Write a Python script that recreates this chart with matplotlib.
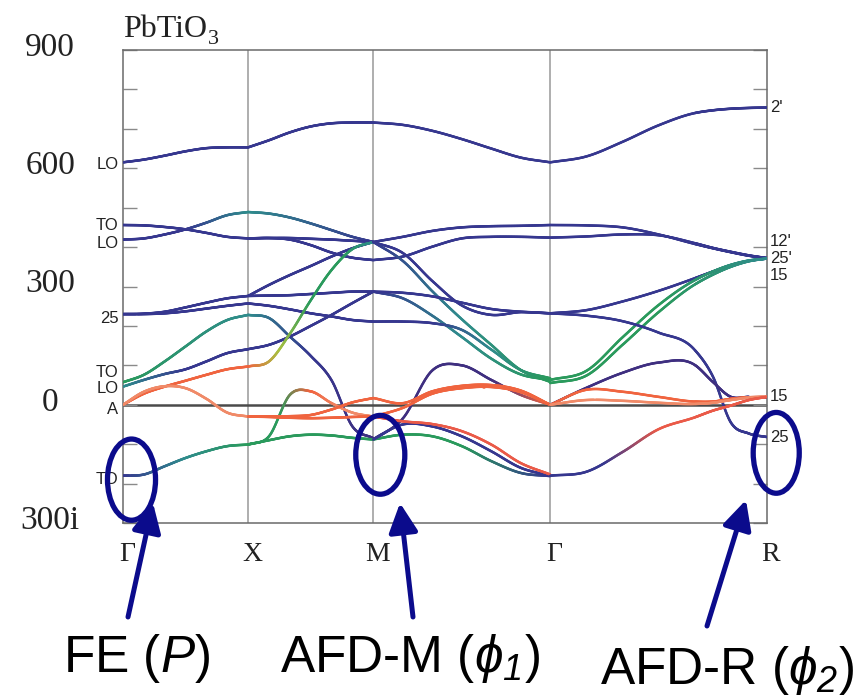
import numpy as np
import matplotlib
matplotlib.use("Agg")
import matplotlib.pyplot as plt
from matplotlib.collections import LineCollection
from matplotlib.colors import to_rgb
from matplotlib.patches import Ellipse
from matplotlib.transforms import blended_transform_factory

plt.rcParams['mathtext.fontset'] = 'custom'
plt.rcParams['mathtext.rm'] = 'Liberation Sans:italic'
plt.rcParams['mathtext.it'] = 'Liberation Sans:italic'
plt.rcParams['mathtext.bf'] = 'Liberation Sans:bold'
plt.rcParams['mathtext.fallback'] = 'stixsans'

# ---------------- data ----------------
SYM_LABELS = ['Γ', 'X', 'M', 'Γ', 'R']
SEG_LENGTHS = [1.0, 1.0, np.sqrt(2.0), np.sqrt(3.0)]

Y_TICK_VALUES = [900, 600, 300, 0, -300]
Y_TICK_LABELS = ['900', '600', '300', '0', '300i']

LEFT_MODE_LABELS = ['LO', 'TO', 'LO', '25', 'TO', 'LO', 'A', 'TO']
LEFT_MODE_POS = [610, 456, 410, 220, 82, 40, -12, -190]
RIGHT_MODE_LABELS = ["2'", "12'", "25'", '15', '15', '25']
RIGHT_MODE_POS = [754, 413, 370, 328, 20, -84]

# Gamma -> X
GX_Q = [0, 1/6, 2/6, 3/6, 4/6, 5/6, 1]
GX_BANDS = [
    [615, 622, 632, 643, 651, 653, 653],
    [456, 455, 451, 445, 436, 426, 422],
    [419, 422, 432, 445, 462, 481, 489],
    [230, 231, 236, 247, 259, 270, 276],
    [230, 230, 232, 237, 244, 251, 257],
    [57, 76, 110, 148, 186, 215, 228],
    [46, 63, 78, 90, 110, 131, 141],
    [0, 28, 46, 61, 76, 90, 97],
    [0, 33, 47, 42, 15, -20, -30],
    [-180, -177, -156, -135, -118, -105, -101],
]
GX_COLORS = [['B'], ['B'], ['B', 'B', 'T'], ['B'], ['B'], ['G', 'T'], ['T', 'B', 'B'],
             ['O'], ['L'], ['B', 'T', 'G']]

# X -> M
XM_Q = [0, 1/6, 2/6, 3/6, 4/6, 5/6, 1]
XM_BANDS = [
    [653, 671, 691, 706, 714, 716, 716],
    [489, 485, 475, 460, 443, 426, 413],
    [422, 423, 423, 421, 419, 416, 413],
    [422, 423, 419, 405, 386, 373, 367],
    [276, 304, 329, 352, 376, 397, 413],
    [276, 277, 278, 281, 284, 287, 287],
    [257, 251, 242, 232, 224, 215, 211],
    [228, 220, 173, 124, 62, -55, -85],
    [141, 152, 173, 200, 228, 258, 287],
    [97, 110, 180, 265, 342, 395, 413],
    [-101, -80, 25, 34, 4, -20, -30],
    [-101, -90, -80, -76, -78, -84, -88],
    [-30, -30, -29, -26, -12, 6, 17],
    [-30, -31, -33, -34, -33, -31, -30],
]
XM_COLORS = [['B'], ['T', 'B'], ['B'], ['B'], ['B'], ['B'], ['B'], ['T', 'B', 'P'], ['B'],
             ['O', 'Y', 'G', 'G', 'T'], ['G', 'G', 'O', 'L', 'L'], ['G'], ['O'], ['O']]

# M -> Gamma
MG_Q = [0, 1/6, 2/6, 3/6, 4/6, 5/6, 1]
MG_BANDS = [
    [716, 710, 695, 674, 650, 627, 615],
    [413, 426, 441, 450, 453, 454, 456],
    [367, 376, 401, 422, 426, 426, 424],
    [413, 385, 314, 252, 228, 235, 232],
    [413, 365, 288, 217, 152, 88, 58],
    [287, 270, 226, 172, 117, 77, 63],
    [287, 284, 275, 259, 243, 236, 232],
    [211, 211, 207, 190, 140, 88, 67],
    [-88, -35, 87, 100, 63, 25, 0],
    [17, 4, 34, 48, 50, 36, 0],
    [-30, -8, 28, 42, 45, 32, 0],
    [-88, -76, -80, -105, -143, -173, -181],
    [-88, -50, -55, -80, -118, -160, -180],
    [-30, -42, -49, -67, -101, -148, -177],
]
MG_COLORS = [['B'], ['B'], ['B'], ['B'], ['B', 'T', 'G'], ['B', 'T', 'G'], ['B'],
             ['B', 'B', 'T', 'G'], ['P', 'P', 'P', 'O'], ['O'], ['O'], ['G', 'G', 'B'],
             ['B'], ['R']]

# Gamma -> R
GR_Q = [0, 1/6, 2/6, 3/6, 4/6, 0.75, 5/6, 11/12, 1]
GR_BANDS = [
    [615, 630, 667, 709, 740, 747, 751, 753, 754],
    [456, 455, 450, 432, 408, 397, 387, 378, 372],
    [424, 427, 432, 430, 410, 398, 388, 379, 372],
    [232, 240, 262, 289, 321, 338, 354, 365, 371],
    [63, 86, 171, 253, 316, 338, 355, 366, 371],
    [55, 74, 152, 235, 305, 330, 350, 364, 371],
    [232, 226, 212, 183, 139, 72, -45, -73, -82],
    [0, 43, 81, 107, 101, 58, 20, 20, 20],
    [0, 38, 33, 20, 8, 8, 15, 19, 20],
    [0, 12, 10, 5, 2, 5, 12, 18, 20],
    [-180, -170, -120, -62, -32, -15, -2, 12, 20],
]
GR_COLORS = [['B'], ['B'], ['B'], ['B'], ['G', 'G', 'T'], ['G', 'G', 'T'], ['B'],
             ['P'], ['O'], ['L'], ['B', 'B', 'R', 'R', 'R']]

# ---------------- styles ----------------
PALETTE = {
    'B': '#36378f',
    'P': '#3f2f80',
    'T': '#2f8c8c',
    'G': '#2a9a5c',
    'Y': '#a8c040',
    'O': '#f0643f',
    'L': '#f08a68',
    'R': '#ea5a48',
}
NAVY = '#0b0b8c'


def smooth(q, v, n=40):
    q = np.asarray(q, float)
    v = np.asarray(v, float)
    m = np.gradient(v, q)
    qq, vv = [], []
    for i in range(len(q) - 1):
        h = q[i + 1] - q[i]
        t = np.linspace(0, 1, n, endpoint=(i == len(q) - 2))
        h00 = 2 * t**3 - 3 * t**2 + 1
        h10 = t**3 - 2 * t**2 + t
        h01 = -2 * t**3 + 3 * t**2
        h11 = t**3 - t**2
        vv.append(h00 * v[i] + h10 * h * m[i] + h01 * v[i + 1] + h11 * h * m[i + 1])
        qq.append(q[i] + t * h)
    return np.concatenate(qq), np.concatenate(vv)


def colors_along(t, stops):
    rgb = np.array([to_rgb(PALETTE[s]) for s in stops])
    if len(stops) == 1:
        return np.repeat(rgb, len(t), axis=0)
    pos = np.linspace(0, 1, len(stops))
    return np.column_stack([np.interp(t, pos, rgb[:, k]) for k in range(3)])


fig = plt.figure(figsize=(8.61, 6.97), dpi=100)
W, H = 861.0, 697.0
ax = fig.add_axes([123 / W, (H - 523) / H, 644 / W, 473 / H])

qpts = np.concatenate([[0], np.cumsum(SEG_LENGTHS)])
ax.set_xlim(qpts[0], qpts[-1])
ax.set_ylim(-300, 900)

for xv in qpts[1:-1]:
    ax.axvline(xv, color='#a8a8a8', lw=1.3, zorder=0)
ax.axhline(0, color='#4a4a4a', lw=1.8, zorder=1)

segments = [(GX_Q, GX_BANDS, GX_COLORS), (XM_Q, XM_BANDS, XM_COLORS),
            (MG_Q, MG_BANDS, MG_COLORS), (GR_Q, GR_BANDS, GR_COLORS)]
for (qg, bands, cols), q0, L in zip(segments, qpts[:-1], SEG_LENGTHS):
    for vals, stops in zip(bands, cols):
        qq, vv = smooth(qg, vals)
        x = q0 + qq * L
        pts = np.column_stack([x, vv])
        segs = np.stack([pts[:-1], pts[1:]], axis=1)
        tm = (qq[:-1] + qq[1:]) / 2
        lc = LineCollection(segs, colors=colors_along(tm, stops), linewidths=1.8,
                            capstyle='round', joinstyle='round', zorder=3)
        ax.add_collection(lc)

# ticks and frame
ax.set_xticks([])
ax.set_yticks(np.arange(-300, 901, 100))
ax.tick_params(axis='y', direction='in', length=10, width=1.0, color='#8a8a8a',
               left=True, right=True, labelleft=False)
for sp in ax.spines.values():
    sp.set_color('#6a6a6a')
    sp.set_linewidth(1.1)

ybt = blended_transform_factory(ax.transAxes, ax.transData)
for val, lab in zip(Y_TICK_VALUES, Y_TICK_LABELS):
    ax.text(-0.113, val + 6, lab, transform=ybt, ha='center', va='center',
            fontsize=24, family='Liberation Serif', color='#222222')
for val, lab in zip(LEFT_MODE_POS, LEFT_MODE_LABELS):
    ax.text(-0.007, val, lab, transform=ybt, ha='right', va='center',
            fontsize=12, family='Liberation Sans', color='#222222')
for val, lab in zip(RIGHT_MODE_POS, RIGHT_MODE_LABELS):
    ax.text(1.005, val, lab, transform=ybt, ha='left', va='center',
            fontsize=12, family='Liberation Sans', color='#222222')

xbt = blended_transform_factory(ax.transData, ax.transAxes)
for xv, lab in zip(qpts, SYM_LABELS):
    ax.text(xv + 0.03, -0.066, lab, transform=xbt, ha='center', va='center',
            fontsize=20, family='Liberation Serif', color='#222222')

# title PbTiO3
t = ax.text(0.0, 1.028, 'PbTiO', transform=ax.transAxes, ha='left', va='baseline',
            fontsize=23, family='Liberation Serif', color='#222222')
fig.canvas.draw()
bb = t.get_window_extent()
fig.text((bb.x1 + 1) / W, (H - 44) / H, '3', ha='left', va='baseline',
         fontsize=16, family='Liberation Serif', color='#222222')

# annotations: ellipses
for (cx, cy, ew, eh) in [(0.068, -190, 0.384, 206), (2.056, -127, 0.392, 200),
                         (5.22, -122, 0.368, 205)]:
    e = Ellipse((cx, cy), ew, eh, transform=ax.transData, fill=False,
                edgecolor=NAVY, lw=3.8, clip_on=False, zorder=6)
    ax.add_patch(e)

# arrows
for tail, tip in [((128, H - 617), (153, H - 503)), ((413, H - 617), (400, H - 503)),
                  ((707, H - 626), (746, H - 500))]:
    fig.add_artist(matplotlib.patches.FancyArrowPatch(
        tail, tip, transform=None, arrowstyle='-|>,head_length=0.8,head_width=0.4',
        mutation_scale=22, lw=3.6, color=NAVY, shrinkA=0, shrinkB=0, zorder=7))

fig.text(137 / W, (H - 672) / H, r'FE ($P$)', ha='center', va='baseline', fontsize=37,
         family='Liberation Sans', color='black')
fig.text(410 / W, (H - 672) / H, r'AFD-M ($\phi_{1}$)', ha='center',
         va='baseline', fontsize=37, family='Liberation Sans', color='black')
fig.text(727 / W, (H - 684) / H, r'AFD-R ($\phi_{2}$)', ha='center',
         va='baseline', fontsize=37, family='Liberation Sans', color='black')

fig.savefig('out.png', dpi=100)
